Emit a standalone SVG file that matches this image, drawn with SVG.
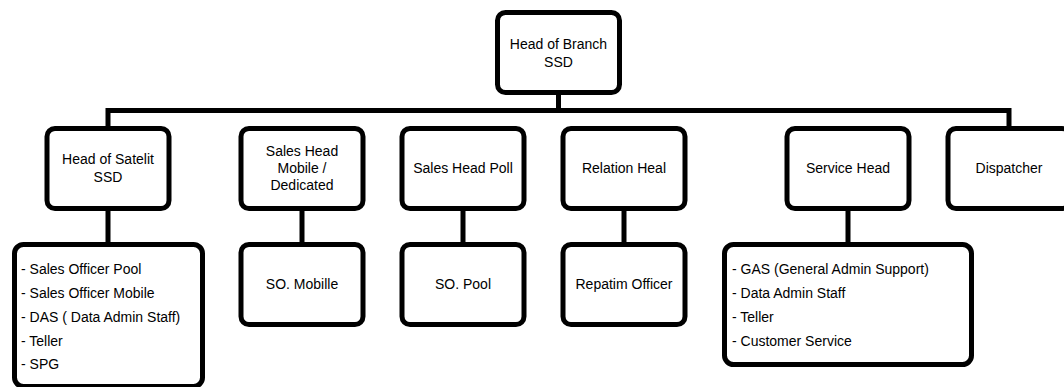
<svg xmlns="http://www.w3.org/2000/svg" width="1064" height="387" viewBox="0 0 1064 387">
<style>
.box{fill:#fff;stroke:#000;stroke-width:5}
.ln{fill:none;stroke:#000;stroke-width:5;stroke-linejoin:miter}
text{font-family:"Liberation Sans",Arial,sans-serif;font-size:14px;fill:#000}
.c{text-anchor:middle}
</style>
<rect width="1064" height="387" fill="#fff"/>
<g id="connectors">
<path class="ln" d="M558.5,94 V110.5"/>
<path class="ln" d="M108,127 V110.5 H1009 V127"/>
<path class="ln" d="M108,210 V243 M302,210 V243 M463,210 V243 M624,210 V243 M848,210 V243"/>
</g>
<g id="head-of-branch">
<rect class="box" x="497.5" y="12.5" width="122" height="80" rx="8"/>
<text class="c" x="558.5" y="49">Head of Branch</text>
<text class="c" x="558.5" y="67">SSD</text>
</g>
<g id="head-of-satelit">
<rect class="box" x="47" y="128.5" width="122" height="80" rx="8"/>
<text class="c" x="108" y="164">Head of Satelit</text>
<text class="c" x="108" y="182">SSD</text>
</g>
<g id="sales-head-mobile">
<rect class="box" x="241" y="128.5" width="122" height="80" rx="8"/>
<text class="c" x="302" y="156">Sales Head</text>
<text class="c" x="302" y="173">Mobile /</text>
<text class="c" x="302" y="190">Dedicated</text>
</g>
<g id="sales-head-poll">
<rect class="box" x="402" y="128.5" width="122" height="80" rx="8"/>
<text class="c" x="463" y="173">Sales Head Poll</text>
</g>
<g id="relation-heal">
<rect class="box" x="563" y="128.5" width="122" height="80" rx="8"/>
<text class="c" x="624" y="173">Relation Heal</text>
</g>
<g id="service-head">
<rect class="box" x="787" y="128.5" width="122" height="80" rx="8"/>
<text class="c" x="848" y="173">Service Head</text>
</g>
<g id="dispatcher">
<rect class="box" x="948" y="128.5" width="122" height="80" rx="8"/>
<text class="c" x="1009" y="173">Dispatcher</text>
</g>
<g id="satelit-staff">
<rect class="box" x="14.5" y="244.5" width="188" height="142" rx="9"/>
<text x="21" y="274">- Sales Officer Pool</text>
<text x="21" y="298">- Sales Officer Mobile</text>
<text x="21" y="322">- DAS ( Data Admin Staff)</text>
<text x="21" y="346">- Teller</text>
<text x="21" y="369">- SPG</text>
</g>
<g id="so-mobille">
<rect class="box" x="241" y="244.5" width="122" height="80" rx="8"/>
<text class="c" x="302" y="289">SO. Mobille</text>
</g>
<g id="so-pool">
<rect class="box" x="402" y="244.5" width="122" height="80" rx="8"/>
<text class="c" x="463" y="289">SO. Pool</text>
</g>
<g id="repatim-officer">
<rect class="box" x="563" y="244.5" width="122" height="80" rx="8"/>
<text class="c" x="624" y="289">Repatim Officer</text>
</g>
<g id="service-staff">
<rect class="box" x="724.5" y="244.5" width="247" height="120" rx="9"/>
<text x="732" y="274">- GAS (General Admin Support)</text>
<text x="732" y="298">- Data Admin Staff</text>
<text x="732" y="322">- Teller</text>
<text x="732" y="346">- Customer Service</text>
</g>
</svg>
